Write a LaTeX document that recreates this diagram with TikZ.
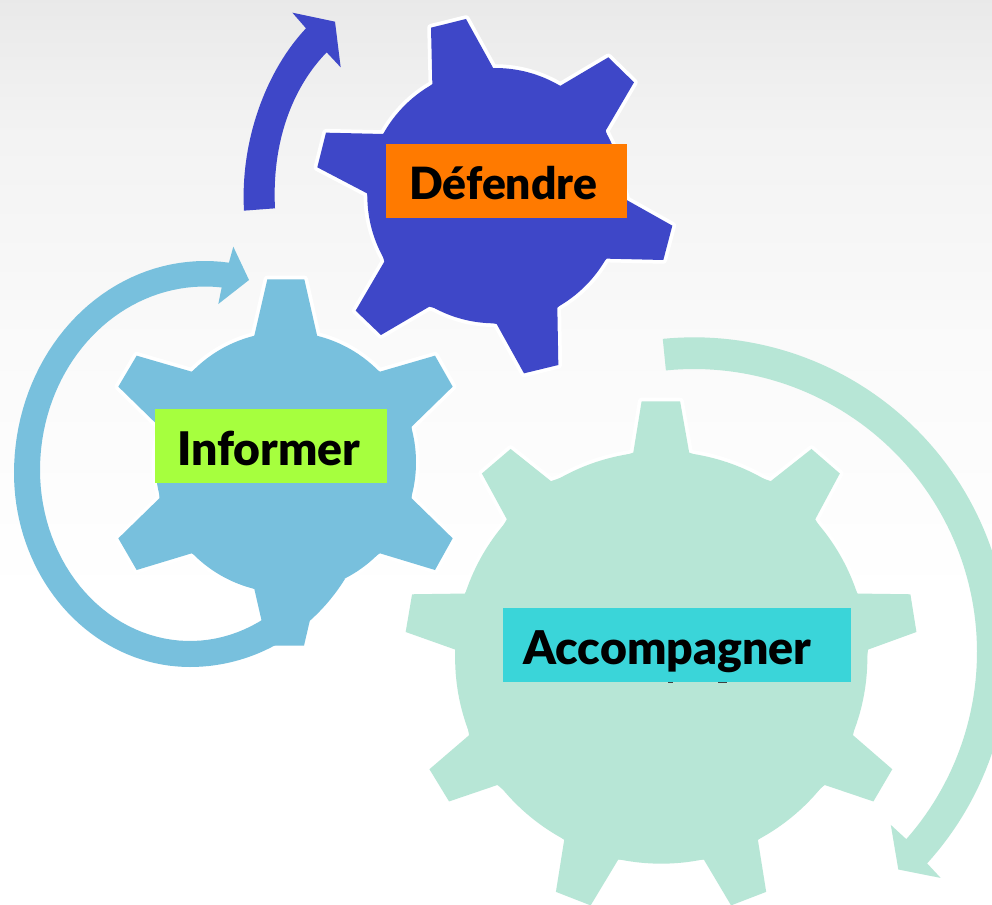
\documentclass[tikz,border=0pt]{standalone}
\usepackage{fontspec}
\usepackage{graphicx}
\setmainfont{Lato}[BoldFont={Lato Black}]
\definecolor{cblue}{HTML}{3E47C8}
\definecolor{clight}{HTML}{78C0DD}
\definecolor{cgreen}{HTML}{B7E6D6}
\definecolor{corange}{HTML}{FF7A00}
\definecolor{clime}{HTML}{A6FF3E}
\definecolor{ccyan}{HTML}{3AD5D9}
\newcommand{\lbltext}[2]{\resizebox{#1pt}{!}{\bfseries #2}}
\tikzset{
  gearline/.style={draw=white,line width=7.5pt,line join=round},
  labelbox/.style={rectangle,inner sep=0pt,anchor=north west},
  labeltext/.style={inner sep=0pt,anchor=base west,text=black}
}
\begin{document}
\begin{tikzpicture}[x=1pt,y=-1pt]
\useasboundingbox (0,0) rectangle (992,904);
\clip (0,0) rectangle (992,904);
% background
\fill[white] (0,0) rectangle (992,904);
\shade[top color=black!8.5,bottom color=black!5,shading angle=0] (0,0) rectangle (992,120);
\shade[top color=black!5,bottom color=black!2,shading angle=0] (0,120) rectangle (992,340);
\shade[top color=black!2,bottom color=white,shading angle=0] (0,340) rectangle (992,600);
% light blue gear
\begin{scope}[shift={(0,240)},x=0.33333pt,y=-0.33333pt]
\def\polyL{(763,287)--(802,118)--(913,118)--(952,290)--(1140,395)--(1305,347)--(1358,440)--(1235,560)--(1235,775)--(1358,895)--(1305,990)--(1140,940)--(952,1045)--(912,1217)--(802,1217)--(763,1047)--(575,940)--(410,990)--(355,895)--(478,775)--(478,560)--(355,440)--(410,347)--(575,395)--cycle}
\path[gearline] (857,667) circle (391);
\path[gearline] \polyL;
\fill[clight] (857,667) circle (391);
\fill[clight] \polyL;
\end{scope}
% light blue arrow
\fill[clight] plot[domain=33:90,samples=30] ({190+185*cos(\x)},{473+194*sin(\x)})
  -- plot[domain=90:180,samples=40] ({190+176*cos(\x)},{473+194*sin(\x)})
  -- plot[domain=180:277.2,samples=40] ({205+191*cos(\x)},{473+212*sin(\x)})
  -- (233.3,246.7) -- (249,280) -- (218.3,304)
  -- plot[domain=275.8:180,samples=40] ({205+165*cos(\x)},{470+183.5*sin(\x)})
  -- plot[domain=180:40,samples=50] ({190+150*cos(\x)},{470+171*sin(\x)}) -- cycle;
% dark blue gear
\begin{scope}[shift={(230,0)},x=0.33333pt,y=-0.33333pt]
\def\polyB{(607,252)--(603,83)--(708,57)--(790,205)--(990,258)--(1135,172)--(1212,247)--(1127,392)--(1190,600)--(1327,677)--(1300,780)--(1130,776)--(982,923)--(985,1095)--(882,1120)--(800,972)--(598,920)--(453,1005)--(377,932)--(463,785)--(411,580)--(262,502)--(288,398)--(460,402)--cycle}
\path[gearline] (795,587) circle (383);
\path[gearline] \polyB;
\fill[cblue] (795,587) circle (383);
\fill[cblue] \polyB;
\fill[cblue] (42,632) .. controls (30,420) and (110,210) .. (228,85)
  -- (187,38) -- (315,65) -- (332,202) -- (290,157)
  .. controls (185,265) and (125,430) .. (135,625) -- cycle;
\end{scope}
% green gear
\begin{scope}[shift={(400,330)},x=0.37750pt,y=-0.36603pt]
\def\polyG{(618,335)--(640,195)--(742,195)--(766,335)--(982,413)--(1090,325)--(1165,392)--(1100,517)--(1212,720)--(1352,722)--(1368,825)--(1240,873)--(1200,1107)--(1304,1200)--(1254,1288)--(1125,1243)--(948,1393)--(970,1535)--(877,1572)--(805,1447)--(578,1447)--(505,1572)--(413,1535)--(435,1393)--(258,1243)--(130,1288)--(78,1200)--(183,1107)--(146,873)--(15,825)--(32,722)--(172,720)--(283,517)--(217,392)--(293,325)--(400,413)--cycle}
\path[gearline] (692,895) circle[x radius=546,y radius=563];
\path[gearline] \polyG;
\fill[cgreen] (692,895) circle[x radius=546,y radius=563];
\fill[cgreen] \polyG;
\end{scope}
\fill[cgreen] plot[domain=-95.7:42.2,samples=90] ({694+314.7*cos(\x)},{652+314.7*sin(\x)})
  -- (940.6,877.9) -- (898.3,869.5) -- (890.8,824.9) --
  plot[domain=41.4:-95.7,samples=90] ({694+283*cos(\x)},{652+283*sin(\x)}) -- cycle;
% bits of lettering showing under the cyan box
\fill[black!75] (668,681) rectangle (673,683.2);
\fill[black!75] (718,681) rectangle (727,683.2);
% labels
\node[labelbox,fill=corange,minimum width=241pt,minimum height=73.7pt] (defbox) at (386,144) {};
\node[labelbox,fill=clime,minimum width=232pt,minimum height=73.7pt] (infbox) at (155,409) {};
\node[labelbox,fill=ccyan,minimum width=348pt,minimum height=74pt] (accbox) at (503,608) {};
\node[labeltext] (deflabel) at (409,199.5) {\lbltext{188}{Défendre}};
\node[labeltext] (inflabel) at (177,465) {\lbltext{183}{Informer}};
\node[labeltext] (acclabel) at (523,664) {\lbltext{288}{Accompagner}};
\end{tikzpicture}
\end{document}
